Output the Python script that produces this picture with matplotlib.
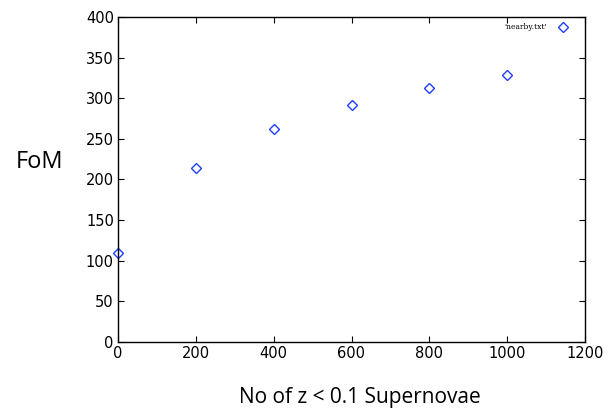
import numpy as np
import matplotlib
matplotlib.use('Agg')
import matplotlib.pyplot as plt

# number of nearby supernovae vs figure of merit
n_nearby = [0, 200, 400, 600, 800, 1000, 1143]
fom = [110, 214, 262, 292, 312, 328, 388]

fig = plt.figure(figsize=(6.12, 4.09), dpi=100)
ax = fig.add_axes([118/612, 1 - 342/409, 467/612, 325/409])

ax.plot(n_nearby, fom, linestyle='none', marker='D', markersize=5.5,
        markerfacecolor='none', markeredgecolor='#1f3fff', markeredgewidth=1.0,
        clip_on=False)
ax.text(0.919, 0.969, "'nearby.txt'", transform=ax.transAxes, ha='right', va='center',
        fontsize=5.5, family='DejaVu Serif')

ax.set_xlim(0, 1200)
ax.set_ylim(0, 400)
ax.set_xticks(np.arange(0, 1201, 200))
ax.set_yticks(np.arange(0, 401, 50))
ax.tick_params(direction='in', top=True, right=True, labelsize=10.5, length=4, pad=3)
for s in ax.spines.values():
    s.set_linewidth(1.0)

fig.text(40/612, 1 - 162/409, 'FoM', fontsize=17, family='Open Sans', ha='center', va='center')
fig.text(360/612, 1 - 398/409, 'No of z < 0.1 Supernovae', fontsize=15, family='Open Sans',
         ha='center', va='center')

fig.savefig('out.png', dpi=100)
